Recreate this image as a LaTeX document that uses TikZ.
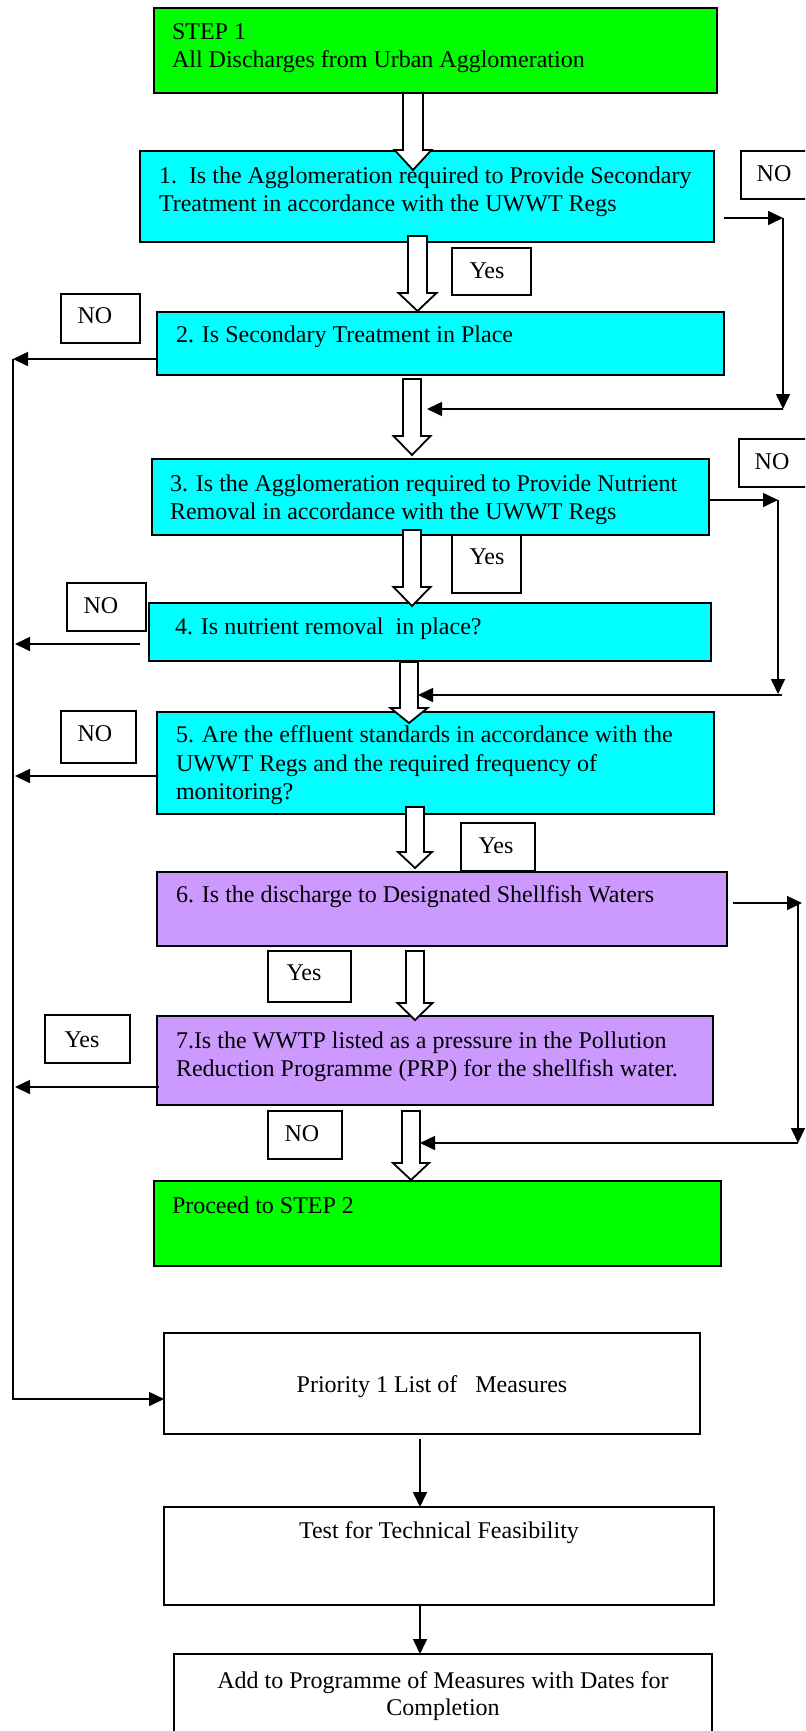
\documentclass[tikz,border=0pt]{standalone}
\usepackage{fontspec}
\setmainfont{Liberation Serif}
\usetikzlibrary{arrows.meta}
\definecolor{cyanc}{RGB}{0,255,255}
\definecolor{greenc}{RGB}{0,255,0}
\definecolor{lilac}{RGB}{204,153,255}
\newcommand\mkbox[6]{\node[box,#6,anchor=north west,minimum width={(#4-#2)*0.5pt},minimum height={(#5-#3)*0.5pt}] (#1) at (#2,#3) {};}
\newcommand\harrow[7]{%
  \draw[hollow] ({#2-#6},#3) -- ({#2+#6},#3) -- ({#2+#6},#4) -- ({#2+#7},#4) -- (#2,#5) -- ({#2-#7},#4) -- ({#2-#6},#4) -- cycle;
  \coordinate (#1) at (#2,#5);}
\begin{document}
\begin{tikzpicture}[x=0.5pt,y=-0.5pt,
  box/.style={draw=black,line width=0.9pt,inner sep=0pt,outer sep=0pt},
  hollow/.style={draw=black,fill=white,line width=0.9pt,line join=miter},
  conn/.style={draw=black,line width=0.8pt},
  arr/.style={conn,-{Triangle[length=7.5pt,width=7pt]}},
  txt/.style={font=\fontsize{12pt}{14pt}\selectfont,inner sep=0pt,outer sep=0pt}]
\useasboundingbox (0,0) rectangle (805,1731);
\fill[white] (0,0) rectangle (805,1731);
\clip (0,0) rectangle (805,1731);
% boxes
\mkbox{s1}{154}{8}{717}{93}{fill=greenc}
\mkbox{b1}{140}{151}{714}{242}{fill=cyanc}
\mkbox{no1}{741}{151}{810}{199}{fill=white}
\mkbox{y1}{452}{248}{531}{295}{fill=white}
\mkbox{no2}{61}{294}{140}{343}{fill=white}
\mkbox{b2}{157}{312}{724}{375}{fill=cyanc}
\mkbox{b3}{152}{459}{709}{535}{fill=cyanc}
\mkbox{no3}{739}{439}{810}{487}{fill=white}
\mkbox{y2}{452}{535}{521}{593}{fill=white}
\mkbox{no4}{67}{583}{146}{631}{fill=white}
\mkbox{b4}{149}{603}{711}{661}{fill=cyanc}
\mkbox{no5}{61}{711}{136}{763}{fill=white}
\mkbox{b5}{157}{712}{714}{814}{fill=cyanc}
\mkbox{y3}{461}{823}{535}{871}{fill=white}
\mkbox{b6}{157}{872}{727}{946}{fill=lilac}
\mkbox{y4}{268}{951}{351}{1002}{fill=white}
\mkbox{y5}{45}{1015}{130}{1063}{fill=white}
\mkbox{b7}{157}{1016}{713}{1105}{fill=lilac}
\mkbox{no6}{268}{1111}{342}{1159}{fill=white}
\mkbox{s2}{154}{1181}{721}{1266}{fill=greenc}
\mkbox{p1}{164}{1333}{700}{1434}{fill=white}
\mkbox{tf}{164}{1507}{714}{1605}{fill=white}
\mkbox{ad}{174}{1654}{712}{1745}{fill=white}
% hollow block arrows
\harrow{a1}{413}{93}{150}{170}{10}{18.5}
\harrow{a2}{417.5}{236}{293}{311}{9.5}{19}
\harrow{a3}{412}{379}{436}{455}{9}{18.5}
\harrow{a4}{412}{530}{587}{606}{9}{18.5}
\harrow{a5}{409}{662}{708}{723}{9}{18.5}
\harrow{a6}{415}{807}{852}{868}{9}{17}
\harrow{a7}{415}{951}{1003}{1020}{9}{17.5}
\harrow{a8}{411}{1111}{1163}{1180}{9}{18}
% right loops
\coordinate (r1a) at (724,218); \coordinate (r1b) at (783,218);
\coordinate (r1c) at (783,409); \coordinate (r1d) at (427,409);
\draw[arr] (r1a) -- (r1b);
\draw[arr] (r1b) -- (r1c);
\draw[arr] (r1c) -- (r1d);
\coordinate (r2a) at (709,500); \coordinate (r2b) at (778,500);
\coordinate (r2c) at (778,694); \coordinate (r2e) at (782,695); \coordinate (r2d) at (418,695);
\draw[arr] (r2a) -- (r2b);
\draw[arr] (r2b) -- (r2c);
\draw[arr] (r2e) -- (r2d);
\coordinate (r3a) at (733,903); \coordinate (r3b) at (802,903);
\coordinate (r3s) at (798,903); \coordinate (r3c) at (798,1143); \coordinate (r3d) at (420,1143);
\draw[arr] (r3a) -- (r3b);
\draw[arr] (r3s) -- (r3c);
\draw[arr] (r3c) -- (r3d);
% left bus
\coordinate (l2) at (157,359); \coordinate (l2e) at (13,359);
\coordinate (l4) at (140,644); \coordinate (l4e) at (15,644);
\coordinate (l5) at (157,776); \coordinate (l5e) at (15,776);
\coordinate (l7) at (159,1087); \coordinate (l7e) at (15,1087);
\coordinate (lb) at (13,1399); \coordinate (lp) at (164,1399);
\draw[arr] (l2) -- (l2e);
\draw[arr] (l4) -- (l4e);
\draw[arr] (l5) -- (l5e);
\draw[arr] (l7) -- (l7e);
\draw[arr] (l2e) -- (lb) -- (lp);
% bottom chain
\coordinate (c1) at (420,1439); \coordinate (c2) at (420,1507);
\coordinate (c3) at (420,1605); \coordinate (c4) at (420,1654);
\draw[arr] (c1) -- (c2);
\draw[arr] (c3) -- (c4);
% texts
\node[txt,anchor=base west] (t1) at (172,39) {STEP 1};
\node[txt,anchor=base west] (t2) at (172,67) {All Discharges from Urban Agglomeration};
\node[txt,anchor=base west] (t3) at (159,183) {1.\ \ Is the Agglomeration required to Provide Secondary};
\node[txt,anchor=base west] (t4) at (159,211) {Treatment in accordance with the UWWT Regs};
\node[txt,anchor=base] (t5) at (774,181) {NO};
\node[txt,anchor=base] (t6) at (487,278) {Yes};
\node[txt,anchor=base] (t7) at (95,323) {NO};
\node[txt,anchor=base west] (t8) at (176,342) {2. Is Secondary Treatment in Place};
\node[txt,anchor=base west] (t9) at (170,491) {3. Is the Agglomeration required to Provide Nutrient};
\node[txt,anchor=base west] (t10) at (170,519) {Removal in accordance with the UWWT Regs};
\node[txt,anchor=base] (t11) at (772,469) {NO};
\node[txt,anchor=base] (t12) at (487,564) {Yes};
\node[txt,anchor=base] (t13) at (101,613) {NO};
\node[txt,anchor=base west] (t14) at (175,634) {4. Is nutrient removal\ \ in place?};
\node[txt,anchor=base] (t15) at (95,741) {NO};
\node[txt,anchor=base west] (t16) at (176,742) {5. Are the effluent standards in accordance with the};
\node[txt,anchor=base west] (t17) at (176,771) {UWWT Regs and the required frequency of};
\node[txt,anchor=base west] (t18) at (176,799) {monitoring?};
\node[txt,anchor=base] (t19) at (496,853) {Yes};
\node[txt,anchor=base west] (t20) at (176,902) {6. Is the discharge to Designated Shellfish Waters};
\node[txt,anchor=base] (t21) at (304,980) {Yes};
\node[txt,anchor=base] (t22) at (82,1047) {Yes};
\node[txt,anchor=base west] (t23) at (176,1048) {7.Is the WWTP listed as a pressure in the Pollution};
\node[txt,anchor=base west] (t24) at (176,1076) {Reduction Programme (PRP) for the shellfish water.};
\node[txt,anchor=base] (t25) at (302,1141) {NO};
\node[txt,anchor=base west] (t26) at (172,1213) {Proceed to STEP 2};
\node[txt,anchor=base] (t27) at (432,1392) {Priority 1 List of\ \ \ Measures};
\node[txt,anchor=base] (t28) at (439,1538) {Test for Technical Feasibility};
\node[txt,anchor=base] (t29) at (443,1688) {Add to Programme of Measures with Dates for};
\node[txt,anchor=base] (t30) at (443,1715) {Completion};
\end{tikzpicture}
\end{document}
